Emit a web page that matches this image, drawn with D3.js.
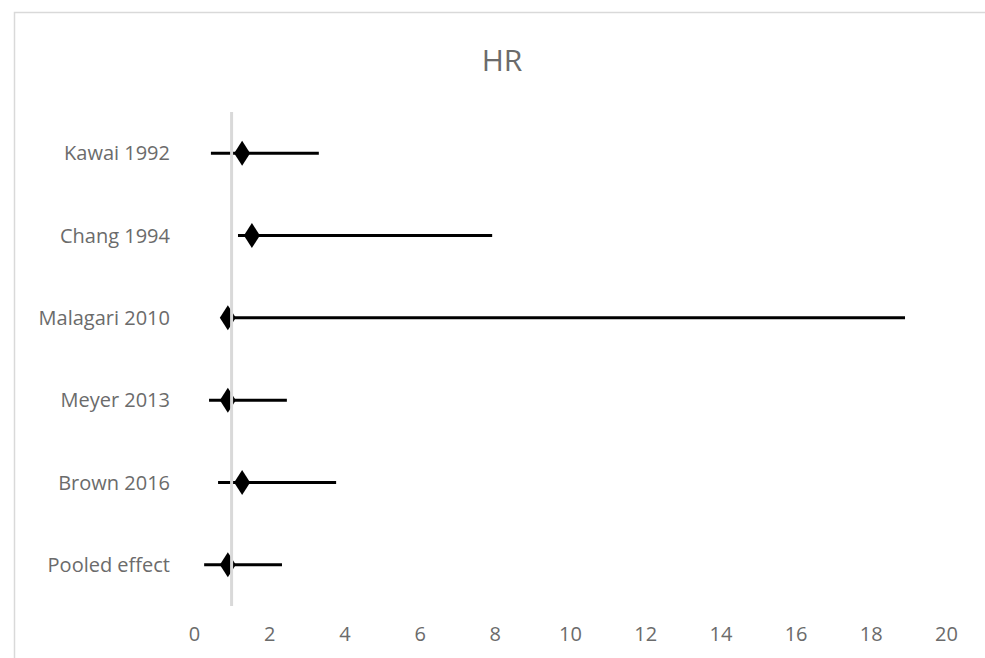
<!DOCTYPE html>
<html>
<head>
<meta charset="utf-8">
<script src="https://cdn.jsdelivr.net/npm/d3@7"></script>
<style>
	body { margin: 0; background: #fff; }
	svg { display: block; }
	text { font-family: "Open Sans", Lato, sans-serif; fill: #6b6b6b; }
</style>
</head>
<body>
<div id="chart"></div>
<script>
// forest plot data
var studies = ['Kawai 1992', 'Chang 1994', 'Malagari 2010', 'Meyer 2013', 'Brown 2016', 'Pooled effect'];
var hr      = [1.28, 1.54, 0.90, 0.90, 1.28, 0.90];
var lower   = [0.45, 1.17, 0.90, 0.40, 0.64, 0.27];
var upper   = [3.32, 7.93, 18.91, 2.47, 3.78, 2.34];
var xTicks  = [0, 2, 4, 6, 8, 10, 12, 14, 16, 18, 20];

var width = 985, height = 658;
var svg = d3.select('#chart').append('svg').attr('width', width).attr('height', height);

// chart border
svg.append('rect')
	.attr('x', 14.5).attr('y', 12.5)
	.attr('width', 1000).attr('height', 700)
	.attr('fill', 'none')
	.attr('stroke', '#d9d9d9')
	.attr('stroke-width', 1.5);

var x = d3.scaleLinear().domain([0, 20]).range([194, 946]);
var y = d3.scaleBand().domain(studies).range([112, 606]);

svg.append('text')
	.attr('x', 502).attr('y', 71)
	.attr('text-anchor', 'middle')
	.style('font-size', '30px')
	.text('HR');

var data = studies.map(function(s, i) {
	return {name: s, hr: hr[i], lo: lower[i], hi: upper[i]};
});

// category labels
svg.append('g').selectAll('text')
	.data(studies)
	.join('text')
		.attr('x', 170)
		.attr('y', function(d) { return y(d) + y.bandwidth()/2; })
		.attr('dy', '0.35em')
		.attr('text-anchor', 'end')
		.style('font-size', '20px')
		.text(function(d) { return d; });

// x axis labels
var xAxis = svg.append('g')
	.attr('transform', 'translate(0,' + 606 + ')')
	.call(d3.axisBottom(x).tickValues(xTicks).tickSize(0).tickPadding(21));
xAxis.select('.domain').remove();
xAxis.selectAll('text')
	.style('font-size', '20px')
	.style('font-family', '"Open Sans", Lato, sans-serif')
	.attr('fill', '#6b6b6b');

// whiskers
svg.append('g').selectAll('line')
	.data(data)
	.join('line')
		.attr('x1', function(d) { return x(d.lo); })
		.attr('x2', function(d) { return x(d.hi); })
		.attr('y1', function(d) { return y(d.name) + y.bandwidth()/2; })
		.attr('y2', function(d) { return y(d.name) + y.bandwidth()/2; })
		.attr('stroke', '#000')
		.attr('stroke-width', 3);

// diamonds
svg.append('g').selectAll('path')
	.data(data)
	.join('path')
		.attr('transform', function(d) { return 'translate(' + x(d.hr) + ',' + (y(d.name) + y.bandwidth()/2) + ')'; })
		.attr('d', 'M0,-12.5L8,0L0,12.5L-8,0Z')
		.attr('fill', '#000');

// vertical axis at HR = 1, drawn over the marks
svg.append('line')
	.attr('x1', x(1)).attr('x2', x(1))
	.attr('y1', 112).attr('y2', 606)
	.attr('stroke', '#d9d9d9')
	.attr('stroke-width', 3);
</script>
</body>
</html>
